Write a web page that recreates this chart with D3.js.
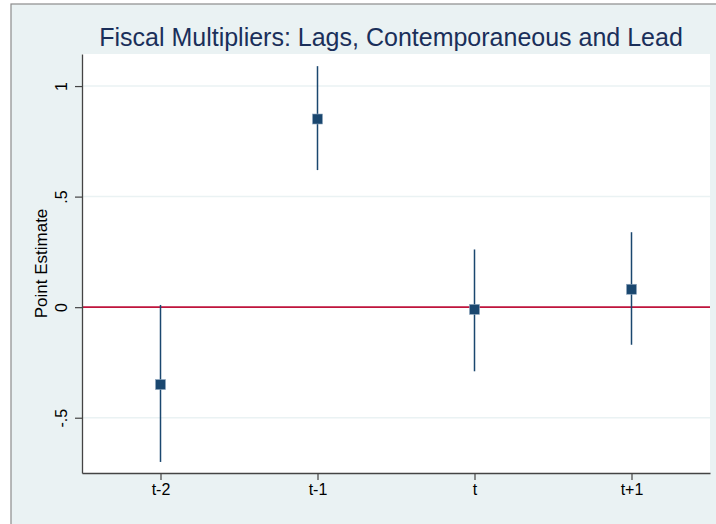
<!DOCTYPE html>
<html>
<head>
<meta charset="utf-8">
<script src="https://cdn.jsdelivr.net/npm/d3@7"></script>
<style>
  body { margin: 0; background: #fff; }
  svg { display: block; font-family: "Liberation Sans", Arial, Helvetica, sans-serif; }
</style>
</head>
<body>
<div id="chart"></div>
<script>
// données
const categories = ["t-2", "t-1", "t", "t+1"];
const estimates = [-0.35, 0.851, -0.01, 0.081];
const lower = [-0.70, 0.62, -0.29, -0.17];
const upper = [0.01, 1.09, 0.261, 0.339];
const yTicks = [-0.5, 0, 0.5, 1];
const yTickLabels = ["-.5", "0", ".5", "1"];

const W = 716, H = 524;
const margin = { top: 54, right: 6, bottom: 51, left: 82 };
const width = W - margin.left - margin.right;
const height = H - margin.top - margin.bottom;

const svg = d3.select("#chart").append("svg")
    .attr("width", W)
    .attr("height", H);

// fond façon Stata s2color
svg.append("rect")
    .attr("x", 11).attr("y", 4)
    .attr("width", W).attr("height", H)
    .attr("fill", "#eaf2f3")
    .attr("stroke", "#8c8c8c")
    .attr("stroke-width", 1.2);

const g = svg.append("g")
    .attr("transform", `translate(${margin.left},${margin.top})`);

g.append("rect")
    .attr("width", width).attr("height", height)
    .attr("fill", "#fff");

// échelles
const x = d3.scaleLinear().domain([0.5, 4.5]).range([0, width]);
const y = d3.scaleLinear().domain([-0.75, 1.145]).range([height, 0]);

// grille
g.selectAll(".grid")
    .data(yTicks)
    .enter().append("line")
    .attr("x1", 0).attr("x2", width)
    .attr("y1", d => y(d)).attr("y2", d => y(d))
    .attr("stroke", "#eaf2f3")
    .attr("stroke-width", 1.5);

// ligne zéro
g.append("line")
    .attr("x1", 0).attr("x2", width)
    .attr("y1", y(0)).attr("y2", y(0))
    .attr("stroke", "#c0143c")
    .attr("stroke-width", 1.6);

// intervalles
g.selectAll(".ci")
    .data(categories)
    .enter().append("line")
    .attr("x1", (d, i) => x(i + 1)).attr("x2", (d, i) => x(i + 1))
    .attr("y1", (d, i) => y(lower[i])).attr("y2", (d, i) => y(upper[i]))
    .attr("stroke", "#1a476f")
    .attr("stroke-width", 1.5);

// points
const s = 10;
g.selectAll(".pt")
    .data(categories)
    .enter().append("rect")
    .attr("x", (d, i) => x(i + 1) - s / 2)
    .attr("y", (d, i) => y(estimates[i]) - s / 2)
    .attr("width", s).attr("height", s)
    .attr("fill", "#1a476f")
    .attr("stroke", "#8fa7bf")
    .attr("stroke-width", 0.6);

// axes
const xAxis = g.append("g")
    .attr("transform", `translate(0,${height})`)
    .call(d3.axisBottom(x).tickValues([1, 2, 3, 4])
        .tickFormat((d, i) => categories[i]).tickSize(7).tickSizeOuter(0));

const yAxis = g.append("g")
    .call(d3.axisLeft(y).tickValues(yTicks)
        .tickFormat((d, i) => yTickLabels[i]).tickSize(7).tickSizeOuter(0));

[xAxis, yAxis].forEach(a => {
    a.select(".domain").attr("stroke", "#444").attr("stroke-width", 1.3);
    a.selectAll(".tick line").attr("stroke", "#444").attr("stroke-width", 1.2);
    a.selectAll(".tick text").attr("fill", "#000").style("font-size", "16px");
});
xAxis.selectAll(".tick text").attr("y", 11);
yAxis.selectAll(".tick text")
    .attr("x", 0).attr("dy", 0)
    .attr("text-anchor", "middle")
    .attr("transform", "translate(-15,0) rotate(-90)");

// titre de l'axe
svg.append("text")
    .attr("transform", `translate(47,${margin.top + height / 2}) rotate(-90)`)
    .attr("text-anchor", "middle")
    .style("font-size", "17px")
    .text("Point Estimate");

// titre
svg.append("text")
    .attr("x", 391)
    .attr("y", 46)
    .attr("text-anchor", "middle")
    .attr("fill", "#1a2f5a")
    .style("font-size", "25px")
    .text("Fiscal Multipliers: Lags, Contemporaneous and Lead");
</script>
</body>
</html>
